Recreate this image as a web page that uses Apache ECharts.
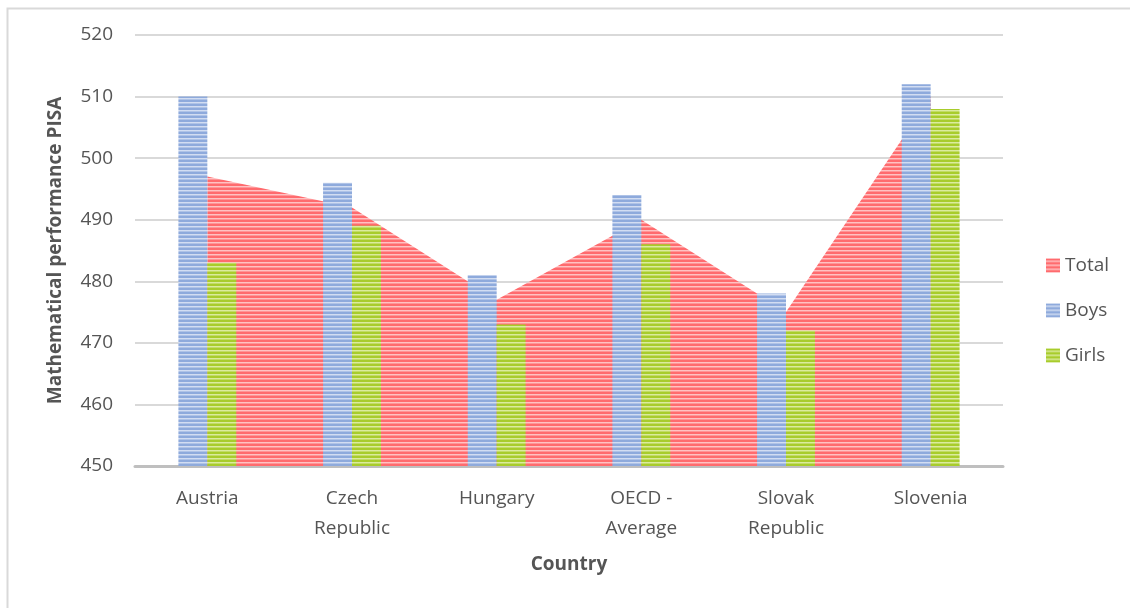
<!DOCTYPE html>
<html>
<head>
<meta charset="utf-8">
<script src="https://cdn.jsdelivr.net/npm/echarts@6/dist/echarts.min.js"></script>
<style>
  html, body { margin: 0; padding: 0; background: #fff; }
  #chart { width: 1130px; height: 608px; }
</style>
</head>
<body>
<div id="chart"></div>
<script>
// PISA mathematical performance by country
const countries = ['Austria', 'Czech\nRepublic', 'Hungary', 'OECD -\nAverage', 'Slovak\nRepublic', 'Slovenia'];
const totalScores = [497, 492, 477, 490, 475, 510];
const boysScores  = [510, 496, 481, 494, 478, 512];
const girlsScores = [483, 489, 473, 486, 472, 508];
const yTicks = [450, 460, 470, 480, 490, 500, 510, 520];

// Horizontal striped fill, drawn once into a tiny canvas and tiled
function stripes(rows) {
  const c = document.createElement('canvas');
  c.width = 4; c.height = rows.length;
  const ctx = c.getContext('2d');
  rows.forEach((col, i) => { ctx.fillStyle = col; ctx.fillRect(0, i, 4, 1); });
  return { image: c, repeat: 'repeat' };
}
const redFill   = stripes(['#ff6b6e', '#ff6b6e', '#ffc2c3', '#ff9597']);
const blueFill  = stripes(['#8eaadc', '#8eaadc', '#d2ddf2', '#afc3e7']);
const greenFill = stripes(['#a8cc2c', '#a8cc2c', '#dbeb9e', '#c2dc66']);

const font = 'Open Sans';
const textColor = '#555555';

const chart = echarts.init(document.getElementById('chart'));
chart.setOption({
  animation: false,
  textStyle: { fontFamily: font },
  graphic: [{
    type: 'rect', left: 5, top: 6, z: -10,
    shape: { width: 1140, height: 620 },
    style: { fill: 'none', stroke: '#d9d9d9', lineWidth: 2 }
  }],
  grid: { left: 135, right: 127, top: 35, bottom: 142 },
  legend: {
    orient: 'vertical', left: 1041, top: 251,
    itemWidth: 14, itemHeight: 14, itemGap: 26,
    icon: 'rect',
    textStyle: { fontFamily: font, fontSize: 19, lineHeight: 19, color: textColor },
    data: ['Total', 'Boys', 'Girls']
  },
  xAxis: {
    type: 'category',
    data: countries,
    name: 'Country',
    nameLocation: 'middle',
    nameGap: 89,
    nameTextStyle: { fontFamily: font, fontSize: 19, fontWeight: 'bold', color: textColor },
    axisLine: { lineStyle: { color: '#bfbfbf', width: 3 } },
    axisTick: { show: false },
    axisLabel: { fontFamily: font, fontSize: 19, color: textColor, lineHeight: 30, margin: 18, interval: 0 }
  },
  yAxis: {
    type: 'value',
    min: yTicks[0], max: yTicks[yTicks.length - 1], interval: 10,
    name: 'Mathematical performance PISA',
    nameLocation: 'middle',
    nameRotate: 90,
    nameGap: 70,
    nameTextStyle: { fontFamily: font, fontSize: 19, fontWeight: 'bold', color: textColor },
    axisLine: { show: false },
    axisTick: { show: false },
    axisLabel: { fontFamily: font, fontSize: 19, color: textColor, margin: 22 },
    splitLine: { lineStyle: { color: '#d9d9d9', width: 2 } }
  },
  series: [
    {
      name: 'Total', type: 'line', data: totalScores, z: 1,
      symbol: 'none', lineStyle: { width: 0 },
      itemStyle: { color: redFill },
      areaStyle: { color: redFill, opacity: 1, origin: 'start' }
    },
    {
      name: 'Boys', type: 'bar', data: boysScores, z: 3,
      barGap: '0%', barCategoryGap: '60%',
      itemStyle: { color: blueFill }
    },
    {
      name: 'Girls', type: 'bar', data: girlsScores, z: 3,
      barGap: '0%', barCategoryGap: '60%',
      itemStyle: { color: greenFill }
    }
  ]
});
</script>
</body>
</html>
